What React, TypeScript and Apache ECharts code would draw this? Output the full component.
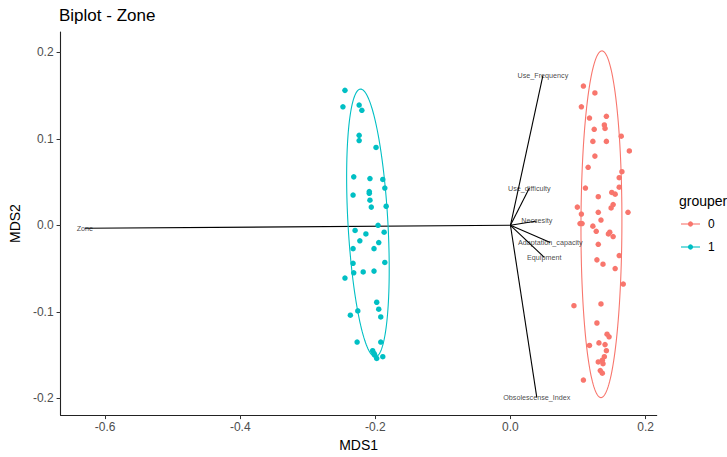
import { useEffect, useRef } from "react";
import * as echarts from "echarts";

// Group "0" (red) MDS coordinates
const group0Points: [number, number][] = [
  [0.108, 0.161], [0.125, 0.153], [0.105, 0.137], [0.117, 0.124], [0.142, 0.126],
  [0.139, 0.116], [0.140, 0.112], [0.124, 0.111], [0.164, 0.103], [0.122, 0.097],
  [0.142, 0.097], [0.176, 0.086], [0.125, 0.080], [0.115, 0.067], [0.165, 0.062],
  [0.161, 0.055], [0.111, 0.043], [0.161, 0.044], [0.130, 0.033], [0.150, 0.038],
  [0.155, 0.036], [0.152, 0.024], [0.149, 0.020], [0.099, 0.021], [0.174, 0.015],
  [0.105, 0.013], [0.130, 0.015], [0.134, 0.006], [0.103, 0.002], [0.106, 0.002],
  [0.122, -0.001], [0.127, -0.007], [0.147, -0.008], [0.145, -0.010], [0.152, -0.013],
  [0.130, -0.022], [0.161, -0.035], [0.128, -0.040], [0.137, -0.045], [0.155, -0.050],
  [0.167, -0.068], [0.094, -0.093], [0.134, -0.091], [0.128, -0.113], [0.143, -0.126],
  [0.146, -0.129], [0.117, -0.139], [0.131, -0.136], [0.140, -0.138], [0.142, -0.145],
  [0.139, -0.152], [0.136, -0.156], [0.130, -0.158], [0.137, -0.160], [0.133, -0.168],
  [0.136, -0.171], [0.108, -0.179],
];

// Group "1" (cyan) MDS coordinates
const group1Points: [number, number][] = [
  [-0.245, 0.156], [-0.248, 0.137], [-0.224, 0.139], [-0.220, 0.133], [-0.224, 0.104],
  [-0.224, 0.098], [-0.199, 0.090], [-0.232, 0.056], [-0.208, 0.054], [-0.189, 0.053],
  [-0.186, 0.043], [-0.233, 0.035], [-0.209, 0.039], [-0.209, 0.037], [-0.208, 0.029],
  [-0.206, 0.021], [-0.184, 0.022], [-0.196, 0.000], [-0.230, -0.006], [-0.214, -0.010],
  [-0.187, -0.008], [-0.223, -0.018], [-0.195, -0.020], [-0.233, -0.027], [-0.202, -0.027],
  [-0.186, -0.043], [-0.233, -0.044], [-0.232, -0.055], [-0.218, -0.054], [-0.202, -0.053],
  [-0.245, -0.061], [-0.198, -0.089], [-0.195, -0.097], [-0.226, -0.099], [-0.237, -0.104],
  [-0.192, -0.106], [-0.227, -0.135], [-0.192, -0.135], [-0.204, -0.145], [-0.202, -0.148],
  [-0.201, -0.150], [-0.198, -0.154], [-0.189, -0.152],
];

// Loading vectors (arrow tips)
const loadingNames = [
  "Use_Frequency", "Use_difficulty", "Neccesity", "Adaptation_capacity",
  "Equipment", "Obsolescense_Index", "Zone",
];
const loadingX = [0.048, 0.028, 0.039, 0.059, 0.050, 0.039, -0.630];
const loadingY = [0.173, 0.043, 0.005, -0.020, -0.037, -0.199, -0.0035];

// 95% ellipses (centre, major semi-axis vector, minor semi-axis vector)
const ellipse0 = { cx: 0.1347, cy: 0.0012, ax: 0.0007, ay: 0.2005, bx: 0.0303, by: 0 };
const ellipse1 = { cx: -0.211, cy: 0.0027, ax: -0.0111, ay: 0.1548, bx: 0.0295, by: 0.0013 };

const groupNames = ["0", "1"];
const groupColors = ["#F8766D", "#00BFC4"];

const xTicks = [-0.6, -0.4, -0.2, 0, 0.2];
const yTicks = [-0.2, -0.1, 0, 0.1, 0.2];

function ellipsePath(e: typeof ellipse0, n = 160): [number, number][] {
  const pts: [number, number][] = [];
  for (let i = 0; i <= n; i++) {
    const t = (i / n) * Math.PI * 2;
    pts.push([
      e.cx + e.ax * Math.cos(t) + e.bx * Math.sin(t),
      e.cy + e.ay * Math.cos(t) + e.by * Math.sin(t),
    ]);
  }
  return pts;
}

const FONT = "'Liberation Sans', Arial, sans-serif";

export default function App() {
  const ref = useRef<HTMLDivElement>(null);
  useEffect(() => {
    document.body.style.margin = "0";
    if (!ref.current) return;
    const chart = echarts.init(ref.current, null, { renderer: "svg" });

    const segmentSeries = loadingNames.map((n, i) => ({
      type: "line",
      name: "seg_" + n,
      data: [[0, 0], [loadingX[i], loadingY[i]]],
      symbol: "none",
      silent: true,
      z: 3,
      lineStyle: { color: "#000", width: 1.1 },
    }));

    const option: any = {
      animation: false,
      textStyle: { fontFamily: FONT },
      title: {
        text: "Biplot - Zone",
        left: 59,
        top: 7,
        padding: 0,
        textStyle: { fontSize: 17, fontWeight: "normal", color: "#000", fontFamily: FONT },
      },
      grid: { left: 59.5, right: 70.3, top: 32, bottom: 40.5, containLabel: false },
      xAxis: {
        type: "value",
        min: -0.666,
        max: 0.2165,
        name: "MDS1",
        nameLocation: "middle",
        nameGap: 22,
        nameTextStyle: { fontSize: 14, color: "#000", fontFamily: FONT },
        axisLine: { show: true, onZero: false, lineStyle: { color: "#222", width: 1.1 } },
        axisTick: { show: true, length: 4, customValues: xTicks, lineStyle: { color: "#333" } },
        axisLabel: {
          customValues: xTicks,
          formatter: (v: number) => v.toFixed(1),
          color: "#4D4D4D",
          fontSize: 12,
          margin: 6,
          fontFamily: FONT,
        },
        splitLine: { show: false },
      },
      yAxis: {
        type: "value",
        min: -0.2195,
        max: 0.2235,
        name: "MDS2",
        nameLocation: "middle",
        nameGap: 30,
        nameRotate: 90,
        nameTextStyle: { fontSize: 14, color: "#000", fontFamily: FONT },
        axisLine: { show: true, onZero: false, lineStyle: { color: "#222", width: 1.1 } },
        axisTick: { show: true, length: 4, customValues: yTicks, lineStyle: { color: "#333" } },
        axisLabel: {
          customValues: yTicks,
          formatter: (v: number) => v.toFixed(1),
          color: "#4D4D4D",
          fontSize: 12,
          margin: 7,
          fontFamily: FONT,
        },
        splitLine: { show: false },
      },
      series: [
        ...segmentSeries,
        {
          type: "scatter",
          name: groupNames[0],
          data: group0Points,
          symbolSize: 5.5,
          z: 4,
          itemStyle: { color: groupColors[0], opacity: 1 },
        },
        {
          type: "scatter",
          name: groupNames[1],
          data: group1Points,
          symbolSize: 5.5,
          z: 4,
          itemStyle: { color: groupColors[1], opacity: 1 },
        },
        {
          type: "line",
          name: "ell0",
          data: ellipsePath(ellipse0),
          showSymbol: false,
          symbol: "none",
          z: 5,
          lineStyle: { color: groupColors[0], width: 1.1 },
        },
        {
          type: "line",
          name: "ell1",
          data: ellipsePath(ellipse1),
          showSymbol: false,
          symbol: "none",
          z: 5,
          lineStyle: { color: groupColors[1], width: 1.1 },
        },
        {
          type: "scatter",
          name: "labels",
          data: loadingNames.map((n, i) => ({ name: n, value: [loadingX[i], loadingY[i]] })),
          symbolSize: 1,
          itemStyle: { color: "rgba(0,0,0,0)" },
          z: 6,
          silent: true,
          label: {
            show: true,
            position: "inside",
            formatter: "{b}",
            fontSize: 7.2,
            color: "#111",
            textBorderWidth: 0,
            textBorderColor: "transparent",
            fontFamily: FONT,
          },
        },
      ],
      graphic: [
        {
          type: "text",
          left: 679,
          top: 194,
          style: { text: "grouper", fontSize: 14, fill: "#000", fontFamily: FONT },
        },
        ...groupNames.flatMap((g, i) => {
          const y = 224 + i * 23;
          return [
            { type: "line", shape: { x1: 681, y1: y, x2: 700, y2: y }, style: { stroke: groupColors[i], lineWidth: 1.1 } },
            { type: "circle", shape: { cx: 690.5, cy: y, r: 2.6 }, style: { fill: groupColors[i] } },
            {
              type: "text",
              x: 708,
              y: y,
              style: { text: g, fontSize: 12, fill: "#000", fontFamily: FONT, verticalAlign: "middle" },
            },
          ];
        }),
      ],
    };
    chart.setOption(option);
    return () => chart.dispose();
  }, []);
  return <div ref={ref} style={{ width: 727, height: 457 }} />;
}
